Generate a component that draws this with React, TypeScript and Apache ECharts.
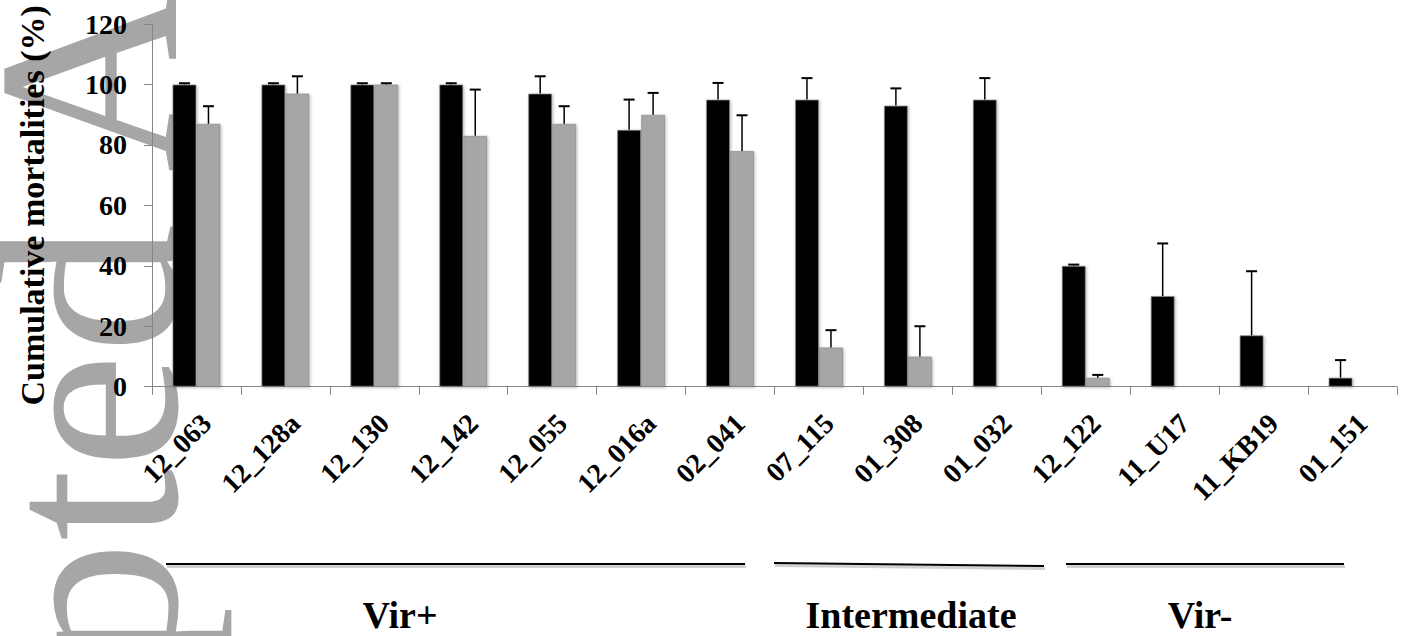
import React, { useEffect, useRef } from "react";
import * as echarts from "echarts";

const categories = ["12_063", "12_128a", "12_130", "12_142", "12_055", "12_016a", "02_041", "07_115", "01_308", "01_032", "12_122", "11_U17", "11_KB19", "01_151"];
const blackValues = [100, 100, 100, 100, 97, 85, 95, 95, 93, 95, 40, 30, 17, 3];
const blackErrors = [0.4, 0.4, 0.4, 0.4, 5.7, 10, 5.5, 7.1, 5.7, 7.1, 0.4, 17.4, 21.2, 5.8];
const grayValues = [87, 97, 100, 83, 87, 90, 78, 13, 10, 0, 3, 0, 0, 0];
const grayErrors = [5.8, 5.7, 0.4, 15.3, 5.8, 7.2, 11.8, 5.7, 10, 0, 0.9, 0, 0, 0];
const yTicks = { min: 0, max: 120, interval: 20 };
const yTitle = "Cumulative mortalities (%)";
const groups = ["Vir+", "Intermediate", "Vir-"];
const watermark = "Accepted Article";

const FONT = "'Liberation Serif', 'Times New Roman', serif";
const BAR_W = 24;

function errorSeries(values: number[], errors: number[], offset: number) {
  return {
    type: "custom",
    z: 5,
    silent: true,
    data: values.map((v, i) => [i, v, errors[i]]),
    renderItem: (params: any, api: any) => {
      const err = api.value(2);
      if (!err) return null;
      const base = api.coord([api.value(0), api.value(1)]);
      const top = api.coord([api.value(0), api.value(1) + err]);
      const x = base[0] + offset;
      return {
        type: "group",
        children: [
          { type: "line", shape: { x1: x, y1: base[1], x2: x, y2: top[1] }, style: { stroke: "#000", lineWidth: 1.5 } },
          { type: "line", shape: { x1: x - 5.5, y1: top[1], x2: x + 5.5, y2: top[1] }, style: { stroke: "#000", lineWidth: 2 } },
        ],
      };
    },
  };
}

function groupLine(x1: number, y1: number, x2: number, y2: number) {
  return [
    { type: "line", shape: { x1: x1 + 1, y1: y1 + 2.5, x2: x2 + 1, y2: y2 + 2.5 }, style: { stroke: "rgba(0,0,0,0.18)", lineWidth: 3 } },
    { type: "line", shape: { x1, y1, x2, y2 }, style: { stroke: "#000", lineWidth: 2 } },
  ];
}

function groupLabel(text: string, x: number) {
  return {
    type: "text",
    x,
    y: 615,
    style: { text, fontFamily: FONT, fontWeight: "bold", fontSize: 38, fill: "#000", align: "center", verticalAlign: "middle" },
  };
}

export default function App() {
  const ref = useRef<HTMLDivElement>(null);
  useEffect(() => {
    const chart = echarts.init(ref.current!, null, { renderer: "svg" });
    const barItem = (color: string) => ({
      color,
      borderColor: "rgba(140,140,140,0.7)",
      borderWidth: 1,
      shadowBlur: 3,
      shadowColor: "rgba(0,0,0,0.3)",
      shadowOffsetX: 1,
      shadowOffsetY: 1,
    });
    const staticGraphics: any[] = [
      {
        type: "text",
        x: 88,
        y: 1205,
        rotation: Math.PI / 2,
        z: -10,
        silent: true,
        style: { text: watermark, fontFamily: FONT, fontSize: 260, fill: "#a6a6a6", align: "left", verticalAlign: "middle" },
      },
      ...groupLine(166, 564, 745, 564),
      ...groupLine(774, 563, 1044, 566),
      ...groupLine(1066, 564, 1344, 564),
      groupLabel(groups[0], 400),
      groupLabel(groups[1], 911),
      groupLabel(groups[2], 1200),
    ];
    chart.setOption({
      animation: false,
      grid: { left: 152, top: 24, width: 1245, height: 362.7 },
      xAxis: {
        type: "category",
        data: categories,
        boundaryGap: true,
        axisLine: { show: true, lineStyle: { color: "#868686", width: 1 } },
        axisTick: { show: true, length: 8, lineStyle: { color: "#868686" } },
        axisLabel: { show: false },
      },
      yAxis: {
        type: "value",
        min: yTicks.min,
        max: yTicks.max,
        interval: yTicks.interval,
        name: yTitle,
        nameLocation: "middle",
        nameGap: 103,
        nameRotate: 90,
        nameTextStyle: { fontFamily: FONT, fontWeight: "bold", fontSize: 34, color: "#000" },
        axisLine: { show: true, lineStyle: { color: "#868686", width: 1 } },
        axisTick: { show: true, length: 8, lineStyle: { color: "#868686" } },
        splitLine: { show: false },
        axisLabel: { margin: 25, fontFamily: FONT, fontWeight: "bold", fontSize: 28, color: "#000" },
      },
      series: [
        { type: "bar", name: "black", data: blackValues, barWidth: BAR_W, barGap: "0%", itemStyle: barItem("#000000"), z: 2 },
        { type: "bar", name: "gray", data: grayValues, barWidth: BAR_W, barGap: "0%", itemStyle: barItem("#a6a6a6"), z: 2 },
        errorSeries(blackValues, blackErrors, -BAR_W / 2),
        errorSeries(grayValues, grayErrors, BAR_W / 2),
      ],
    });
    const labelGraphics = categories.map((c, i) => {
      const p = chart.convertToPixel({ xAxisIndex: 0, yAxisIndex: 0 }, [i, 0]) as number[];
      return {
        type: "text",
        x: p[0],
        y: p[1] + 22,
        rotation: Math.PI / 4,
        style: { text: c, fontFamily: FONT, fontWeight: "bold", fontSize: 28, fill: "#000", align: "right", verticalAlign: "top" },
      };
    });
    chart.setOption({ graphic: [...staticGraphics, ...labelGraphics] });
    return () => chart.dispose();
  }, []);
  return <div ref={ref} style={{ position: "absolute", left: 0, top: 0, width: 1408, height: 636 }} />;
}
